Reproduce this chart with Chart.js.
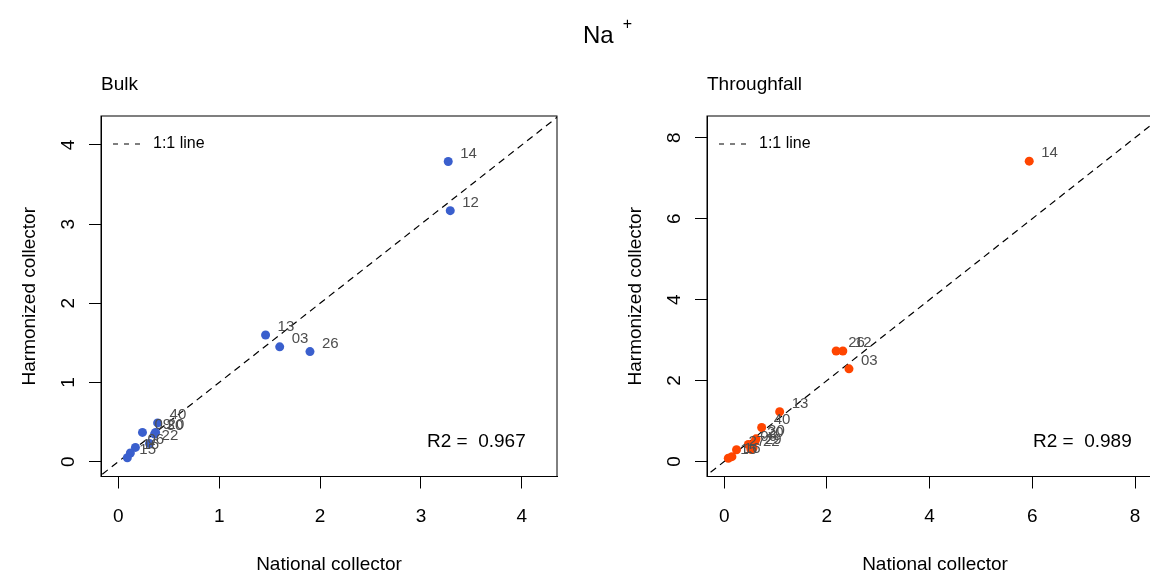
<!DOCTYPE html>
<html><head><meta charset="utf-8">
<script src="https://cdn.jsdelivr.net/npm/chart.js@4"></script>
<style>
html,body{margin:0;padding:0;background:#fff;overflow:hidden;width:1150px;height:576px;}
#wrap{position:relative;width:1150px;height:576px;overflow:hidden;background:#fff;}
.pane{position:absolute;top:0;width:606px;height:576px;}
#title{position:absolute;left:583px;top:20px;font:24px 'Liberation Sans',Arial,sans-serif;line-height:30px;white-space:nowrap;color:#000}
#title sup{font-size:16px;vertical-align:baseline;position:relative;top:-13.7px;margin-left:9px}
</style></head><body>
<div id="wrap">
<div class="pane" style="left:0"><canvas id="c1" width="606" height="576"></canvas></div>
<div class="pane" style="left:606px"><canvas id="c2" width="606" height="576"></canvas></div>
<div id="title">Na<sup>+</sup></div>
</div>
<script>
// ---- data ----
const bulkCodes      = ['14','12','13','03','26','40','09','30','20','22','06','16','15'];
const bulkNational   = [3.27,3.29,1.46,1.60,1.90,0.39,0.24,0.36,0.37,0.31,0.17,0.12,0.09];
const bulkHarmonized = [3.79,3.17,1.60,1.45,1.39,0.49,0.37,0.35,0.37,0.23,0.18,0.11,0.05];
const bulkR2 = 0.967;
const bulkTicks = [0,1,2,3,4];

const tfCodes      = ['14','26','12','03','13','40','30','20','29','06','22','27','16','15'];
const tfNational   = [5.94,2.18,2.31,2.43,1.08,0.73,0.62,0.60,0.56,0.47,0.52,0.24,0.15,0.08];
const tfHarmonized = [7.42,2.73,2.73,2.29,1.23,0.84,0.56,0.50,0.33,0.42,0.30,0.29,0.12,0.08];
const tfR2 = 0.989;
const tfTicks = [0,2,4,6,8];

const oneToOne = [-1, 10];
const xTitle = 'National collector';
const yTitle = 'Harmonized collector';
const lineLabel = '1:1 line';

const FONT = "'Liberation Sans', Arial, sans-serif";
Chart.defaults.font.family = FONT;

const panelDeco = {
  id: 'panelDeco',
  afterDatasetsDraw(chart, args, o) {
    const ctx = chart.ctx, a = chart.chartArea;
    ctx.save();
    ctx.font = '15px ' + FONT;
    ctx.fillStyle = '#4d4d4d';
    ctx.textAlign = 'left'; ctx.textBaseline = 'middle';
    chart.getDatasetMeta(0).data.forEach((el, i) => {
      ctx.fillText(o.codes[i], el.x + 12, el.y - 8);
    });
    ctx.restore();
  },
  afterDraw(chart, args, o) {
    const ctx = chart.ctx, a = chart.chartArea;
    ctx.save();
    // frame
    ctx.strokeStyle = '#000'; ctx.lineWidth = 1;
    ctx.strokeRect(a.left, a.top, a.right - a.left, a.bottom - a.top);
    // legend
    const ly = a.top + 28;
    ctx.setLineDash([5, 6]); ctx.lineWidth = 1.2;
    ctx.beginPath(); ctx.moveTo(a.left + 12, ly); ctx.lineTo(a.left + 39, ly); ctx.stroke();
    ctx.setLineDash([]);
    ctx.fillStyle = '#000';
    ctx.font = '16px ' + FONT; ctx.textAlign = 'left'; ctx.textBaseline = 'middle';
    ctx.fillText(chart.data.datasets[1].label, a.left + 52, ly);
    // panel title
    ctx.font = '19px ' + FONT;
    ctx.fillText(o.panel, a.left, 85);
    // R2
    ctx.textAlign = 'right';
    ctx.fillText('R2 =  ' + o.r2.toFixed(3), a.right - 31.3, a.bottom - 35);
    ctx.restore();
  }
};

function makeChart(id, cfg) {
  const axisCommon = (ticks) => ({
    type: 'linear',
    afterBuildTicks: s => { s.ticks = ticks.map(v => ({value: v})); },
    grid: {drawOnChartArea: false, drawTicks: true, tickLength: 12, color: '#000', lineWidth: 1},
    border: {display: true, color: '#000', width: 1}
  });
  return new Chart(document.getElementById(id), {
    type: 'scatter',
    data: {
      datasets: [
        {label: cfg.panel, data: cfg.x.map((v, i) => ({x: v, y: cfg.y[i]})),
         pointRadius: 4.5, pointHoverRadius: 4.5, pointBackgroundColor: cfg.color,
         pointBorderWidth: 0, borderWidth: 0, showLine: false},
        {label: lineLabel, data: oneToOne.map(v => ({x: v, y: v})), showLine: true,
         borderColor: '#000', borderWidth: 1.2, borderDash: [7, 5], pointRadius: 0, fill: false}
      ]
    },
    options: {
      responsive: false, animation: false, events: [],
      layout: {padding: {left: 0, top: 116, right: 49, bottom: 0}},
      plugins: {legend: {display: false}, tooltip: {enabled: false},
        panelDeco: {codes: cfg.codes, panel: cfg.panel, r2: cfg.r2}},
      scales: {
        x: Object.assign(axisCommon(cfg.ticks), {
          position: 'bottom', min: cfg.xMin, max: cfg.xMax,
          afterFit: s => { s.height = 99.5; },
          ticks: {color: '#000', font: {size: 19}, padding: 17, minRotation: 0, maxRotation: 0, autoSkip: false},
          title: {display: true, text: xTitle, color: '#000', font: {size: 19}, padding: {top: 0, bottom: 0}}
        }),
        y: Object.assign(axisCommon(cfg.ticks), {
          position: 'left', min: cfg.yMin, max: cfg.yMax,
          afterFit: s => { s.width = 101; },
          ticks: {color: '#000', font: {size: 19}, padding: 15.3, minRotation: 90, maxRotation: 90, crossAlign: 'center', autoSkip: false},
          title: {display: true, text: yTitle, color: '#000', font: {size: 19}, padding: {top: 18, bottom: 0}}
        })
      }
    },
    plugins: [panelDeco]
  });
}

makeChart('c1', {panel: 'Bulk', codes: bulkCodes, x: bulkNational, y: bulkHarmonized, r2: bulkR2,
  ticks: bulkTicks, color: '#3A5FCD', xMin: -0.171, xMax: 4.348, yMin: -0.187, yMax: 4.365});
makeChart('c2', {panel: 'Throughfall', codes: tfCodes, x: tfNational, y: tfHarmonized, r2: tfR2,
  ticks: tfTicks, color: '#FF4500', xMin: -0.335, xMax: 8.545, yMin: -0.37, yMax: 8.536});
</script>
</body></html>
